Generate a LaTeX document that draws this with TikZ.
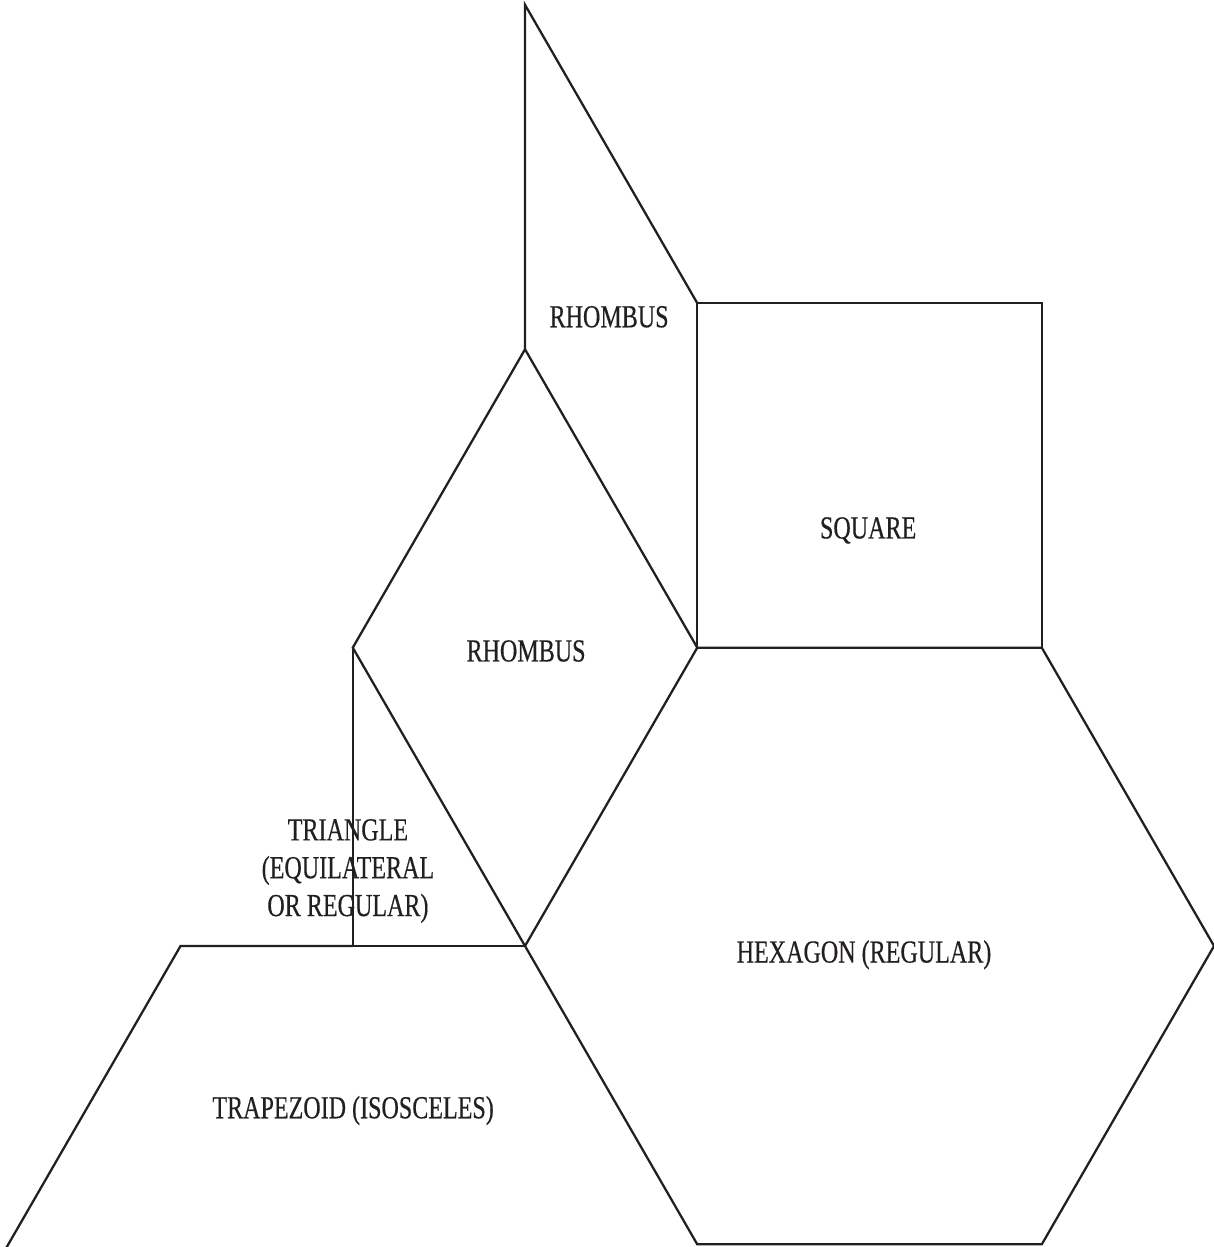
\documentclass[tikz,border=0pt]{standalone}
\usepackage{fontspec}
\setmainfont{Liberation Serif}[FakeStretch=0.75,FakeBold=0.4]
\definecolor{ink}{RGB}{35,31,32}
\tikzset{edge/.style={draw=ink,line width=0.75pt,line join=miter},
 lab/.style={text=ink,inner sep=0pt,anchor=base,align=center,font=\fontsize{10.6}{12.5}\selectfont}}

\begin{document}
\begin{tikzpicture}[x=4cm,y=4cm]
\useasboundingbox(-1.524,-0.8737) rectangle (1.997,2.746);
\coordinate(o) at(0,0);\coordinate(hl) at(0.5,0.866);\coordinate(hr) at(1.5,0.866);
\coordinate(pt) at(0,1.732);\coordinate(pl) at(-0.5,0.866);
% hexagon, square, the two rhombi
\draw[edge](o)--(hl)--(hr)--(2,0)--(1.5,-0.866)--(0.5,-0.866)--cycle;
\draw[edge](hl)--(0.5,1.866)--(1.5,1.866)--(hr);
\draw[edge](o)--(pl)--(pt)--(hl);
\draw[edge](pt)--(0,2.732)--(0.5,1.866);
% triangle and trapezoid (cut off at the bottom)
\draw[edge](pl)--(-0.5,0)--(o);
\draw[edge](-1.508,-0.88)--(-1,0)--(-0.5,0);
\node[lab](rt) at(0.244,1.796){RHOMBUS};
\node[lab](sq) at(0.996,1.183){SQUARE};
\node[lab](rm) at(0.003,0.826){RHOMBUS};
\node[lab,anchor=north](tr) at(-0.514,0.370){TRIANGLE\\(EQUILATERAL\\OR REGULAR)};
\node[lab](hx) at(0.984,-0.048){HEXAGON (REGULAR)};
\node[lab](tz) at(-0.499,-0.500){TRAPEZOID (ISOSCELES)};
\end{tikzpicture}
\end{document}
